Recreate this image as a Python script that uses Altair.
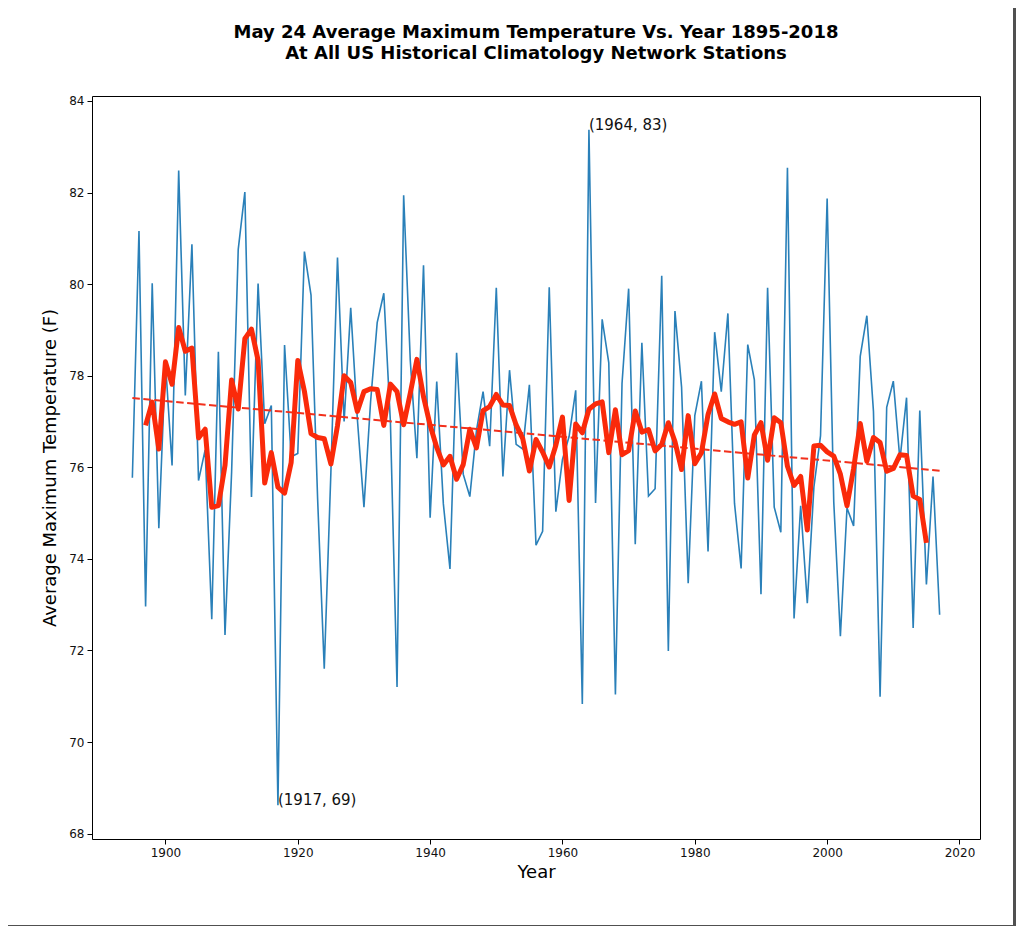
import altair as alt
import pandas as pd

years = list(range(1895, 2018))
temps = [
    75.77, 81.16, 72.96, 80.02, 74.67, 78.30, 76.04, 82.48, 77.57, 80.87,  # 1895-1904
    75.71, 76.38, 72.68, 78.52, 72.34, 75.90, 80.76, 82.01, 75.35, 80.01,  # 1905-1914
    76.95, 77.35, 68.62, 78.67, 76.23, 76.30, 80.71, 79.76, 75.30, 71.60,  # 1915-1924
    75.88, 80.58, 77.00, 79.48, 77.06, 75.13, 77.43, 79.16, 79.80, 76.98,  # 1925-1934
    71.20, 81.94, 78.33, 76.20, 80.41, 74.90, 77.87, 75.20, 73.78, 78.50,  # 1935-1944
    75.85, 75.36, 76.80, 77.65, 76.46, 79.92, 75.80, 78.12, 76.50, 76.40,  # 1945-1954
    77.80, 74.30, 74.60, 79.93, 75.03, 76.17, 76.67, 77.68, 70.83, 83.37,  # 1955-1964
    75.22, 79.23, 78.28, 71.04, 77.83, 79.90, 74.32, 78.72, 75.37, 75.53,  # 1965-1974
    80.18, 71.99, 79.41, 77.75, 73.47, 77.13, 77.88, 74.16, 78.95, 77.65,  # 1975-1984
    79.36, 75.21, 73.79, 78.68, 77.91, 73.23, 79.92, 75.13, 74.58, 82.54,  # 1985-1994
    72.70, 75.16, 73.03, 75.57, 76.69, 81.87, 75.24, 72.31, 75.11, 74.72,  # 1995-2004
    78.42, 79.31, 77.22, 70.99, 77.31, 77.88, 76.16, 77.52, 72.49, 77.24,  # 2005-2014
    73.44, 75.80, 72.78,                                                   # 2015-2017
]
x_ticks = [1900, 1920, 1940, 1960, 1980, 2000, 2020]
y_ticks = [68, 70, 72, 74, 76, 78, 80, 82, 84]
title_lines = [
    "May 24 Average Maximum Temperature Vs. Year 1895-2018",
    "At All US Historical Climatology Network Stations",
]

df = pd.DataFrame({"Year": years, "Temp": temps})

imax = temps.index(max(temps))
imin = temps.index(min(temps))
ann = pd.DataFrame({
    "Year": [years[imax], years[imin]],
    "Temp": [temps[imax], temps[imin]],
    "label": [f"({years[imax]}, {round(temps[imax])})",
              f"({years[imin]}, {round(temps[imin])})"],
})

# matplotlib-like 5% margins
xr = years[-1] - years[0]
yr = max(temps) - min(temps)
x_dom = [years[0] - 0.05 * xr, years[-1] + 0.05 * xr]
y_dom = [min(temps) - 0.05 * yr, max(temps) + 0.05 * yr]

FONT = "DejaVu Sans"
W, H = 888, 743
xs = alt.Scale(domain=x_dom, nice=False, zero=False)
ys = alt.Scale(domain=y_dom, nice=False, zero=False)

xax = alt.Axis(values=x_ticks, format="d", title="Year", grid=False, domain=False,
               tickColor="black", tickSize=5, labelFontSize=12, labelFont=FONT,
               labelColor="#111", labelPadding=3, titleFont=FONT, titleFontSize=18,
               titleFontWeight="normal", titleColor="black", titlePadding=5)
yax = alt.Axis(values=y_ticks, format="d", title="Average Maximum Temperature (F)",
               grid=False, domain=False, tickColor="black", tickSize=5,
               labelFontSize=12, labelFont=FONT, labelColor="#111", labelPadding=3,
               titleFont=FONT, titleFontSize=18, titleFontWeight="normal",
               titleColor="black", titlePadding=9)

base = alt.Chart(df)

blue = base.mark_line(color="#2a80b9", strokeWidth=1.6).encode(
    x=alt.X("Year:Q", scale=xs, axis=xax),
    y=alt.Y("Temp:Q", scale=ys, axis=yax),
)

trend = base.transform_regression(
    "Year", "Temp", method="linear", extent=[years[0], years[-1]]
).mark_line(color="#f2301c", strokeWidth=2, strokeDash=[7.5, 3.5]).encode(
    x=alt.X("Year:Q", scale=xs),
    y=alt.Y("Temp:Q", scale=ys),
)

ma = base.transform_window(
    avg="mean(Temp)", n="count(Temp)", frame=[-2, 2], sort=[alt.SortField("Year")]
).transform_filter(alt.datum.n == 5).mark_line(
    color="#fa2a0a", strokeWidth=5, strokeJoin="round", strokeCap="butt"
).encode(
    x=alt.X("Year:Q", scale=xs),
    y=alt.Y("avg:Q", scale=ys),
)

labels = alt.Chart(ann).mark_text(
    align="left", baseline="alphabetic", font=FONT, fontSize=15, color="#111"
).encode(
    x=alt.X("Year:Q", scale=xs),
    y=alt.Y("Temp:Q", scale=ys),
    text="label:N",
)

# title lines and figure drop shadow (decoration, pixel positions relative to the plot area)
deco = pd.DataFrame({"k": [0]})
title1 = alt.Chart(deco).mark_text(
    font=FONT, fontSize=18, fontWeight="bold", color="black",
    align="center", baseline="alphabetic"
).encode(x=alt.value(W / 2), y=alt.value(-58), text=alt.value(title_lines[0]))
title2 = alt.Chart(deco).mark_text(
    font=FONT, fontSize=18, fontWeight="bold", color="black",
    align="center", baseline="alphabetic"
).encode(x=alt.value(W / 2), y=alt.value(-37), text=alt.value(title_lines[1]))
shadow_r = alt.Chart(deco).mark_rect(fill="#505050").encode(
    x=alt.value(921), x2=alt.value(925), y=alt.value(-88), y2=alt.value(833))
shadow_b = alt.Chart(deco).mark_rect(fill="#505050").encode(
    x=alt.value(-84), x2=alt.value(925), y=alt.value(829), y2=alt.value(833))

chart = alt.layer(shadow_r, shadow_b, blue, trend, ma, labels, title1, title2).properties(
    width=W,
    height=H,
    autosize=alt.AutoSizeParams(type="none"),
    padding={"left": 84, "top": 88, "right": 36, "bottom": 87},
    background="white",
).configure_view(stroke="black", strokeWidth=1)

chart.save("out.html", embed_options={"renderer": "svg", "actions": False})
